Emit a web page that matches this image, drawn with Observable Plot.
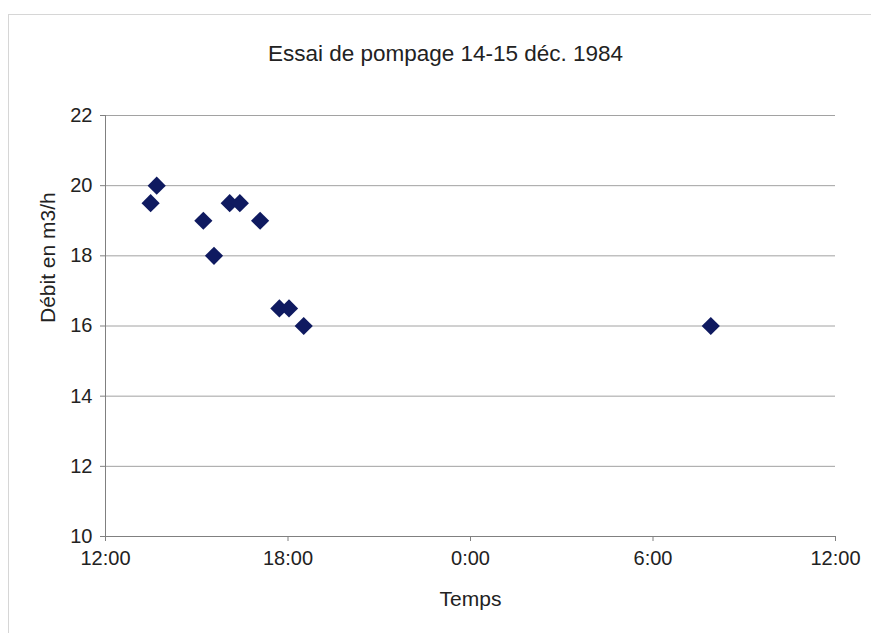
<!DOCTYPE html>
<html>
<head>
<meta charset="utf-8">
<script src="https://cdn.jsdelivr.net/npm/d3@7"></script>
<script src="https://cdn.jsdelivr.net/npm/@observablehq/plot@0.6"></script>
<style>
  body { margin: 0; background: #fff; }
  #chart { position: relative; width: 871px; height: 633px; overflow: hidden; }
  #frame { position: absolute; left: 8px; top: 14px; width: 880px; height: 640px;
           border-left: 1px solid #d6d6d6; border-top: 1px solid #d6d6d6; pointer-events: none; }
  #chart svg { position: absolute; left: 0; top: 0; }
</style>
</head>
<body>
<div id="chart"><div id="frame"></div></div>
<script>
// ---- data ----
const times = [
  "1984-12-14T13:29", "1984-12-14T13:41", "1984-12-14T15:13", "1984-12-14T15:34",
  "1984-12-14T16:05", "1984-12-14T16:25", "1984-12-14T17:05", "1984-12-14T17:43",
  "1984-12-14T18:02", "1984-12-14T18:31", "1984-12-15T07:54"
];
const debits = [19.5, 20, 19, 18, 19.5, 19.5, 19, 16.5, 16.5, 16, 16];
const xTickTimes = ["1984-12-14T12:00", "1984-12-14T18:00", "1984-12-15T00:00", "1984-12-15T06:00", "1984-12-15T12:00"];
const yTicks = [10, 12, 14, 16, 18, 20, 22];
const title = "Essai de pompage 14-15 déc. 1984";
const xLabel = "Temps";
const yLabel = "Débit en m3/h";

const parse = s => new Date(s + ":00Z");
const data = times.map((t, i) => ({time: parse(t), debit: debits[i]}));
const xTicks = xTickTimes.map(parse);
const fmt = d3.utcFormat("%-H:%M");

const font = "'Liberation Sans', Arial, Helvetica, sans-serif";

const plot = Plot.plot({
  width: 871,
  height: 633,
  marginLeft: 105,
  marginRight: 36,
  marginTop: 115,
  marginBottom: 97,
  style: {fontFamily: font, color: "#222", background: "transparent"},
  x: {type: "utc", domain: [xTicks[0], xTicks[xTicks.length - 1]]},
  y: {domain: [10, 22]},
  marks: [
    Plot.ruleY(yTicks.filter(v => v > 10), {stroke: "#a2a2a2", strokeWidth: 1}),
    Plot.ruleY([10], {stroke: "#808080", strokeWidth: 1}),
    Plot.ruleX([xTicks[0]], {stroke: "#808080", strokeWidth: 1}),
    Plot.axisY({ticks: yTicks, tickSize: 5, tickPadding: 8, fontSize: 20, stroke: "#808080", label: null}),
    Plot.axisX({ticks: xTicks, tickFormat: fmt, tickSize: 5, tickPadding: 9, fontSize: 20, stroke: "#808080", label: null}),
    Plot.dot(data, {x: "time", y: "debit", symbol: "diamond2", r: 8.2, fill: "#0f1a60", stroke: null}),
    Plot.text([title], {frameAnchor: "top", dy: -70, dx: -25, fontSize: 22.5, fill: "#222"}),
    Plot.text([xLabel], {frameAnchor: "bottom", dy: 69, fontSize: 21, fill: "#222"}),
    Plot.text([yLabel], {frameAnchor: "left", dx: -57, dy: -3, rotate: -90, fontSize: 21, fill: "#222"})
  ]
});
document.getElementById("chart").appendChild(plot);
</script>
</body>
</html>
